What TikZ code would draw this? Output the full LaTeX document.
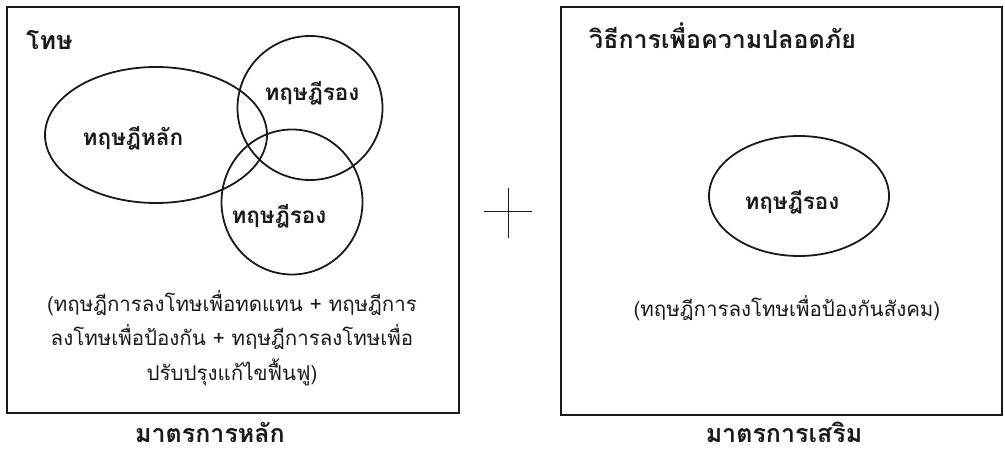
\documentclass[tikz,border=0pt]{standalone}
\usepackage{fontspec}
\usepackage{tikz}
\usetikzlibrary{shapes,positioning,calc}
\newfontfamily\thaifont[Script=Thai]{Loma}
\definecolor{traitnoir}{HTML}{1A1A1A}

\begin{document}
\begin{tikzpicture}[x=1pt,y=-1pt,
    cadre/.style={draw=traitnoir,line width=2pt},
    bulle/.style={ellipse,draw=traitnoir,line width=1.8pt,inner sep=0pt},
    titre/.style={font=\thaifont\bfseries\fontsize{22.5}{27}\selectfont,text=traitnoir,inner sep=0pt},
    legende/.style={font=\thaifont\bfseries\fontsize{25}{29}\selectfont,text=traitnoir,inner sep=0pt},
    corps/.style={font=\thaifont\fontsize{20.5}{34.5}\selectfont,text=traitnoir,align=center,inner sep=0pt}]

  \useasboundingbox (0,0) rectangle (1005,452);

  % Mesures principales
  \draw[cadre] (7,7) rectangle (459,413);
  \node[legende,anchor=base west] (tl) at (26,50) {โทษ};
  \node[bulle,minimum width=222pt,minimum height=136pt] (ehl) at (156,135) {};
  \node[bulle,minimum width=145pt,minimum height=144pt] (er1) at (310,108) {};
  \node[bulle,minimum width=141pt,minimum height=145pt] (er2) at (292,202) {};
  \node[titre,anchor=base] (thl) at (133,145) {ทฤษฎีหลัก};
  \node[titre,anchor=base] (tr1) at (312,100) {ทฤษฎีรอง};
  \node[titre,anchor=base] (tr2) at (279,223) {ทฤษฎีรอง};
  \node[corps] (cl) at (232,338) {(ทฤษฎีการลงโทษเพื่อทดแทน + ทฤษฎีการ\\
    ลงโทษเพื่อป้องกัน + ทฤษฎีการลงโทษเพื่อ\\ ปรับปรุงแก้ไขฟื้นฟู)};
  \node[legende,anchor=base] (ml) at (210,442) {มาตรการหลัก};

  % Signe plus
  \draw[traitnoir,line width=1pt] (484,211) -- (532,211);
  \draw[traitnoir,line width=1pt] (508,188) -- (508,238);

  % Mesures complementaires
  \draw[cadre] (561,7) rectangle (1002,415);
  \node[legende,anchor=base west] (tv) at (589,49) {วิธีการเพื่อความปลอดภัย};
  \node[bulle,minimum width=180pt,minimum height=120pt] (ers) at (799,196) {};
  \node[titre,anchor=base] (trs) at (792,209) {ทฤษฎีรอง};
  \node[corps,anchor=base] (cr) at (787,316) {(ทฤษฎีการลงโทษเพื่อป้องกันสังคม)};
  \node[legende,anchor=base] (mr) at (784,442) {มาตรการเสริม};

\end{tikzpicture}
\end{document}
